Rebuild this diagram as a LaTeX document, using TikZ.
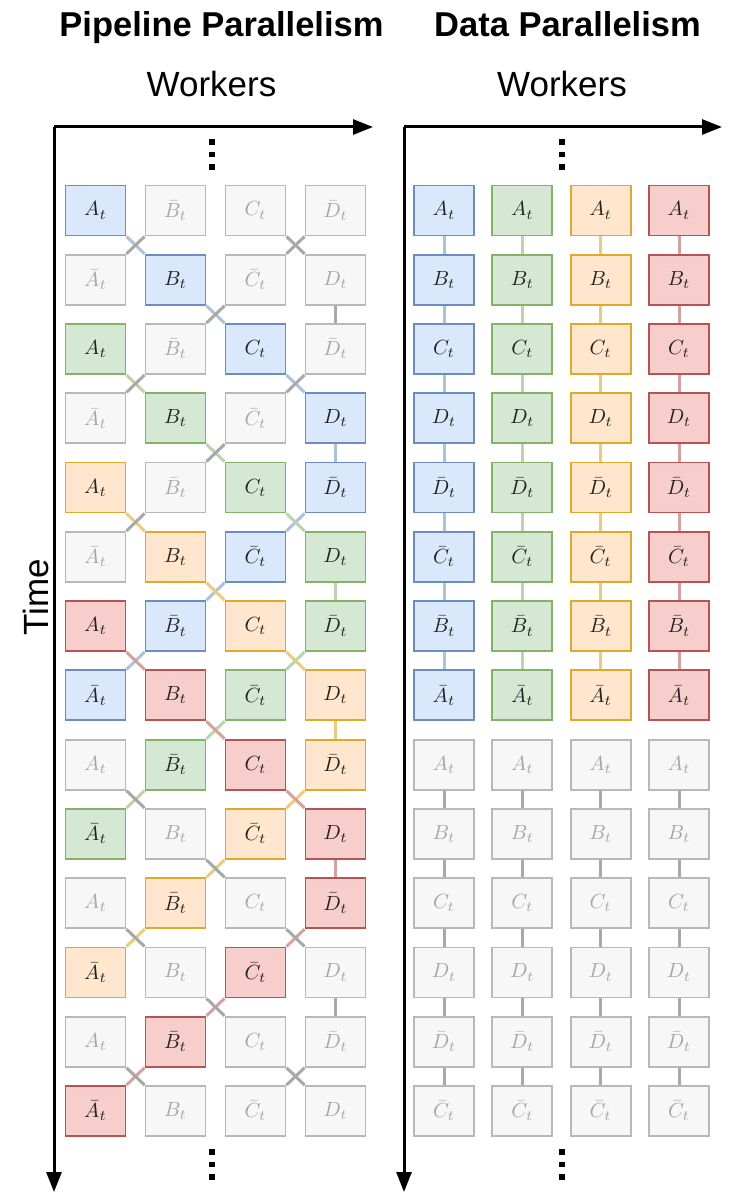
\documentclass[tikz,border=0pt]{standalone}
\usepackage{graphicx}
\usepackage{fontspec}
\setsansfont{Liberation Sans}
\usetikzlibrary{arrows.meta}
\pgfdeclarelayer{background}
\pgfsetlayers{background,main}
\definecolor{fillb}{HTML}{DAE8FC}\definecolor{lineb}{HTML}{6C8EBF}
\definecolor{fillg}{HTML}{D5E8D4}\definecolor{lineg}{HTML}{82B366}
\definecolor{fillo}{HTML}{FFE6CC}\definecolor{lineo}{HTML}{DEAA2A}
\definecolor{fillr}{HTML}{F8CECC}\definecolor{liner}{HTML}{B85450}
\definecolor{fillx}{HTML}{F7F7F7}\definecolor{linex}{HTML}{B8B8B8}
\colorlet{edgeb}{lineb!55!white}
\colorlet{edgeg}{lineg!55!white}
\colorlet{edgeo}{lineo!60!white}
\colorlet{edger}{liner!55!white}
\definecolor{edgex}{HTML}{A8A8A8}
\definecolor{textdark}{HTML}{222222}
\colorlet{textb}{textdark}\colorlet{textg}{textdark}
\colorlet{texto}{textdark}\colorlet{textr}{textdark}
\definecolor{textx}{HTML}{A6A6A6}
\tikzset{
  box/.style={draw=line#1, fill=fill#1, text=text#1, minimum width=60pt,
    minimum height=50pt, inner sep=0pt, line width=1.8pt,
    font=\fontsize{10}{12}\selectfont},
  link/.style={draw=edge#1, line width=3pt},
  axis/.style={line width=3pt, -{Triangle[length=20pt,width=15pt]}},
  title/.style={font=\sffamily\bfseries\fontsize{34.5}{40}\selectfont, anchor=base},
  axlabel/.style={font=\sffamily\fontsize{35}{42}\selectfont, anchor=base},
  dot/.style={fill=black}
}
\newcommand{\chaincol}[1]{\ifnum#1=1 b\else\ifnum#1=3 g\else\ifnum#1=5 o\else\ifnum#1=7 r\else x\fi\fi\fi\fi}
\newcommand{\letterof}[1]{\ifcase#1\or A\or B\or C\or D\fi}
\newcommand{\boxlab}[1]{\scalebox{2.05}{$#1$}}
\begin{document}
\begin{tikzpicture}[x=1pt,y=-1pt]
\useasboundingbox (0,0) rectangle (731,1193);
% titles
\node[title] (t1) at (221.5,37) {Pipeline Parallelism};
\node[title] (t2) at (567.5,37) {Data Parallelism};
\node[axlabel] (w1) at (211.5,97) {Workers};
\node[axlabel] (w2) at (562,97) {Workers};
\node[axlabel, rotate=90] (time) at (48,597) {Time};
% axes
\coordinate (o1) at (54,127);
\coordinate (x1) at (373,127);
\coordinate (y1) at (54,1192);
\coordinate (o2) at (404,127);
\coordinate (x2) at (722,127);
\coordinate (y2) at (404,1192);
\draw[axis] (o1) -- (x1);
\draw[axis] (o1) -- (y1);
\draw[axis] (o2) -- (x2);
\draw[axis] (o2) -- (y2);
% dots
\foreach \dx in {212,562}{
  \foreach \dy in {142,154.5,167,1152,1164.5,1177}{
    \fill[dot] (\dx-2.6,\dy-2.6) rectangle (\dx+2.6,\dy+2.6);
  }
}
% pipeline boxes
\foreach \r in {1,...,14}{
  \foreach \c in {1,...,4}{
    \pgfmathtruncatemacro{\parity}{mod(\r+\c,2)}
    \ifnum\parity=0
      \pgfmathtruncatemacro{\s}{\r-\c+1}
      \edef\lab{\letterof{\c}_t}
    \else
      \pgfmathtruncatemacro{\s}{\r-8+\c}
      \edef\lab{\noexpand\bar{\letterof{\c}}_t}
    \fi
    \edef\cn{\chaincol{\s}}
    \node[box=\cn] (L-\r-\c) at ({95.5+80*(\c-1)},{210.5+69.27*(\r-1)}) {\boxlab{\lab}};
  }
}
% data parallel boxes
\foreach \r in {1,...,14}{
  \foreach \c in {1,...,4}{
    \ifnum\r<9
      \edef\cn{\ifcase\c\or b\or g\or o\or r\fi}
    \else
      \def\cn{x}
    \fi
    \edef\lab{\ifcase\r\or A_t\or B_t\or C_t\or D_t\or \noexpand\bar D_t\or \noexpand\bar C_t\or \noexpand\bar B_t\or \noexpand\bar A_t\or A_t\or B_t\or C_t\or D_t\or \noexpand\bar D_t\or \noexpand\bar C_t\fi}
    \node[box=\cn] (R-\r-\c) at ({444+78.33*(\c-1)},{210.5+69.27*(\r-1)}) {\boxlab{\lab}};
  }
}
\begin{pgfonlayer}{background}
% pipeline links: coloured chains first, grey on top
\foreach \s in {1,3,5,7,-13,-11,-9,-7,-5,-3,-1,9,11,13}{
  \edef\cn{\chaincol{\s}}
  \foreach \k/\ca/\cb/\aa/\ab in {0/1/2/south east/north west,1/2/3/south east/north west,2/3/4/south east/north west,3/4/4/south/north,4/4/3/south west/north east,5/3/2/south west/north east,6/2/1/south west/north east}{
    \pgfmathtruncatemacro{\ra}{\s+\k}
    \pgfmathtruncatemacro{\rb}{\s+\k+1}
    \ifnum\ra>0 \ifnum\rb<15
      \draw[link=\cn] (L-\ra-\ca.\aa) -- (L-\rb-\cb.\ab);
    \fi\fi
  }
}
% data parallel links
\foreach \c/\cn in {1/b,2/g,3/o,4/r}{
  \foreach \r in {1,...,7}{
    \pgfmathtruncatemacro{\rb}{\r+1}
    \draw[link=\cn] (R-\r-\c.south) -- (R-\rb-\c.north);
  }
  \foreach \r in {9,...,13}{
    \pgfmathtruncatemacro{\rb}{\r+1}
    \draw[link=x] (R-\r-\c.south) -- (R-\rb-\c.north);
  }
}
\end{pgfonlayer}
\end{tikzpicture}
\end{document}
